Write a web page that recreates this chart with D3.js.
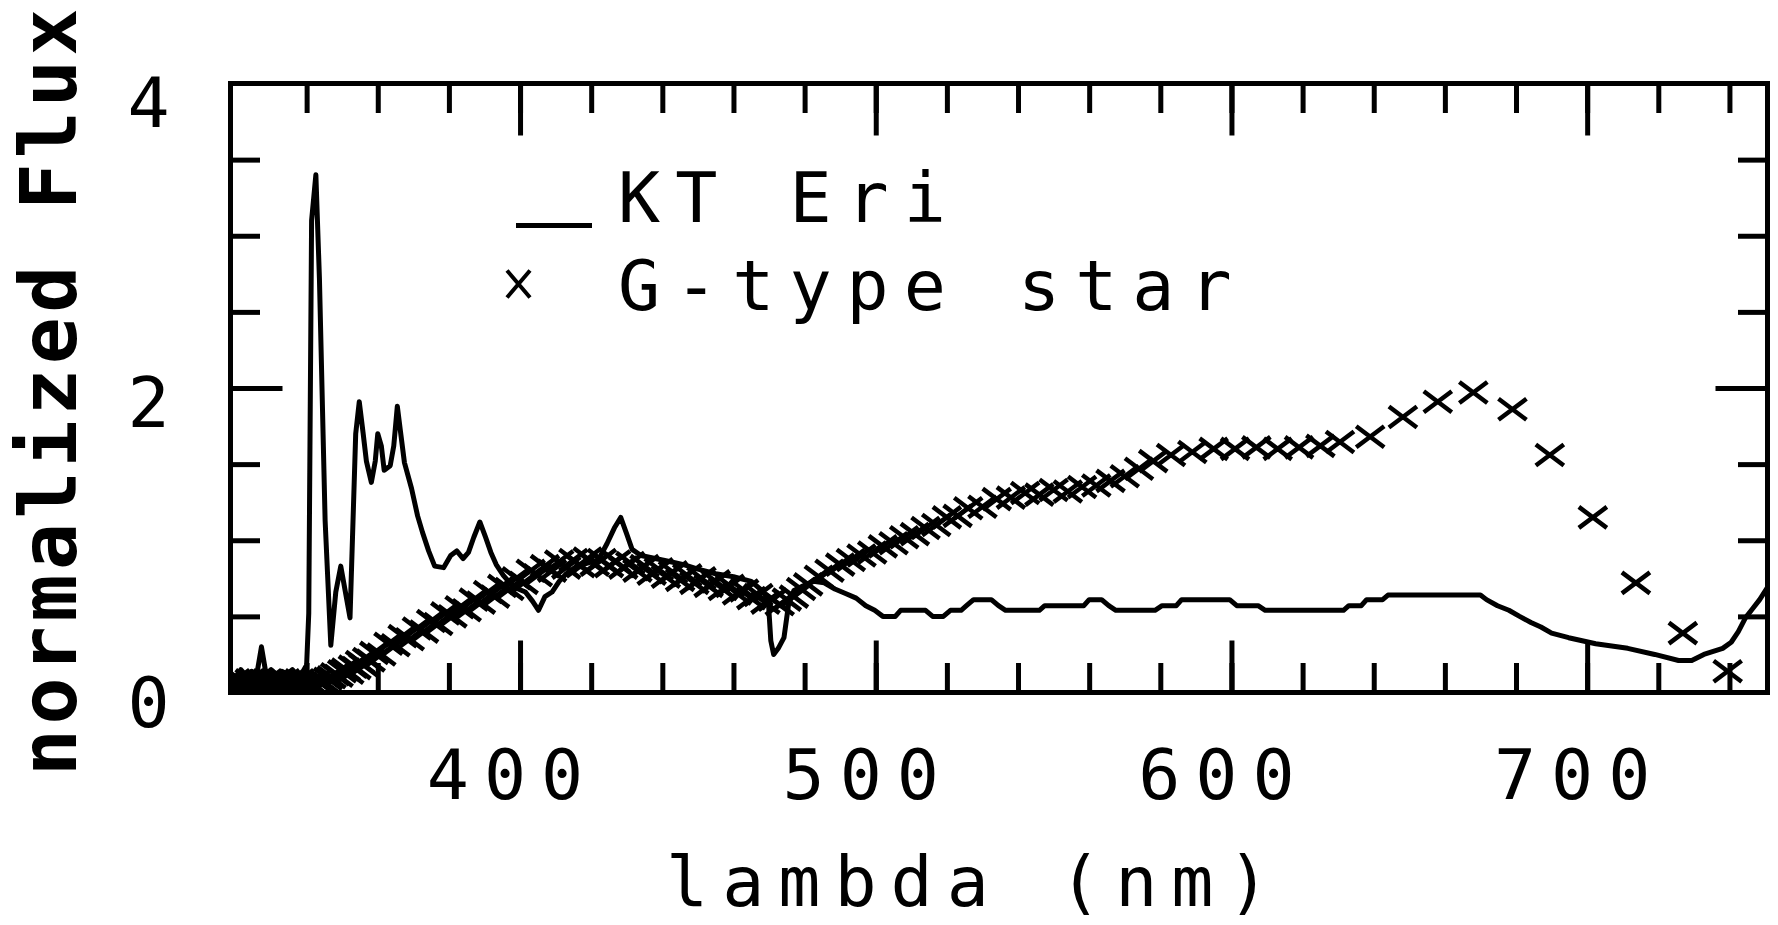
<!DOCTYPE html>
<html>
<head>
<meta charset="utf-8">
<script src="https://cdn.jsdelivr.net/npm/d3@7"></script>
<style>
  html, body { margin: 0; padding: 0; background: #fff; }
  svg { display: block; }
  .lbl { font-family: "DejaVu Sans Mono", monospace; font-size: 70px; letter-spacing: 15px; fill: #000; }
  .ytitle { font-family: "DejaVu Sans Mono", monospace; font-size: 78px; font-weight: bold; letter-spacing: 4.5px; fill: #000; }
</style>
</head>
<body>
<div id="chart"></div>
<script>
// KT Eri spectrum (solid line)
const ktWave = [318.6, 320.0, 321.5, 323.0, 324.5, 326.0, 327.3, 328.6, 330.0, 331.5, 333.0, 334.5, 336.0, 337.5, 339.0,
    340.0, 340.6, 341.4, 342.6, 343.6, 345.2, 346.8, 348.2, 349.6, 350.9, 352.2, 353.8, 354.8, 355.9, 356.8,
    358.2, 359.3, 360.0, 361.0, 361.8, 363.5, 364.5, 365.5, 366.3, 367.5, 369.5, 371.2, 372.6, 374.3, 376.0,
    378.5, 380.5, 382.2, 384.0, 385.5, 387.0, 388.7, 390.3, 391.8, 393.3, 395.3, 397.5, 399.5, 401.5, 403.5,
    405.2, 407.0, 409.0, 411.0, 413.0, 416.0, 419.0, 422.0, 424.5, 426.5, 428.3, 430.0, 431.5, 434.0, 438.0,
    442.0, 446.0, 450.0, 455.0, 460.0, 465.0, 468.5, 469.8, 470.5, 471.3, 472.6, 474.2, 475.5, 477.0, 479.5,
    482.5, 485.5, 488.5, 491.5, 494.5, 497.2, 499.7, 502.0, 505.5, 507.0, 514.0, 516.0, 519.0, 521.0, 524.0,
    525.5, 527.5, 532.5, 534.5, 536.5, 546.0, 547.5, 558.5, 560.0, 563.5, 565.5, 567.5, 578.5, 580.5, 584.5,
    586.0, 599.5, 601.5, 607.5, 609.5, 631.5, 633.0, 636.5, 638.0, 642.5, 644.0, 670.0, 671.7, 674.8, 678.0,
    681.0, 684.2, 687.0, 690.0, 694.8, 702.4, 711.4, 719.0, 725.7, 729.4, 732.8, 738.1, 740.5, 742.5, 744.5,
    746.5, 748.5, 750.7];
const ktFlux = [0.12, 0.10, 0.15, 0.11, 0.14, 0.12, 0.30, 0.12, 0.15, 0.11, 0.14, 0.12, 0.15, 0.11, 0.14,
    0.18, 0.52, 3.10, 3.40, 2.72, 1.13, 0.31, 0.66, 0.83, 0.66, 0.49, 1.70, 1.91, 1.70, 1.52,
    1.38, 1.52, 1.70, 1.62, 1.46, 1.49, 1.62, 1.88, 1.73, 1.51, 1.34, 1.16, 1.05, 0.93, 0.83,
    0.82, 0.90, 0.93, 0.88, 0.92, 1.02, 1.12, 1.02, 0.92, 0.84, 0.77, 0.71, 0.68, 0.66, 0.60,
    0.54, 0.63, 0.66, 0.73, 0.78, 0.83, 0.85, 0.87, 0.98, 1.08, 1.15, 1.04, 0.94, 0.90, 0.88,
    0.86, 0.84, 0.81, 0.78, 0.76, 0.73, 0.66, 0.60, 0.34, 0.25, 0.29, 0.36, 0.58, 0.67, 0.70,
    0.73, 0.72, 0.68, 0.65, 0.62, 0.57, 0.54, 0.50, 0.50, 0.54, 0.54, 0.50, 0.50, 0.54, 0.54,
    0.57, 0.61, 0.61, 0.57, 0.54, 0.54, 0.57, 0.57, 0.61, 0.61, 0.57, 0.54, 0.54, 0.57, 0.57,
    0.61, 0.61, 0.57, 0.57, 0.54, 0.54, 0.57, 0.57, 0.61, 0.61, 0.64, 0.64, 0.61, 0.57, 0.54,
    0.50, 0.46, 0.43, 0.39, 0.36, 0.32, 0.29, 0.25, 0.21, 0.21, 0.25, 0.29, 0.33, 0.40, 0.49,
    0.55, 0.61, 0.69];

// G-type star template (x symbols)
const gWave = [319, 320, 321, 322, 323, 324, 325, 326, 327, 328, 329, 330, 331, 332, 333, 334, 335, 336, 337, 338,
    339, 340, 341, 342, 343, 344, 345, 346, 347, 348, 349, 350, 351, 352, 353, 354, 355, 356, 357, 358,
    359, 361, 363, 365, 367, 369, 371, 373, 375, 377, 379, 381, 383, 385, 387, 389, 391, 393, 395, 397,
    399, 401, 403, 405, 407, 409, 411, 413, 415, 417, 419, 421, 423, 425, 427, 429, 431, 433, 435, 437,
    439, 441, 443, 445, 447, 449, 451, 453, 455, 457, 459, 461, 463, 465, 467, 469, 471, 473, 475, 477,
    479, 481, 484, 487, 490, 493, 496, 499, 502, 505, 508, 511, 514, 517, 520, 523, 526, 530, 534, 538,
    542, 546, 550, 554, 558, 562, 566, 570, 574, 578, 583, 589, 595, 601, 607, 613, 619, 625, 630.5, 639,
    648.2, 658, 668, 679, 689.5, 701.6, 713.7, 726.9, 739.5];
const gFlux = [0.06, 0.08, 0.04, 0.07, 0.05, 0.08, 0.04, 0.06, 0.07, 0.05, 0.08, 0.04, 0.06, 0.07, 0.05, 0.08, 0.04, 0.07, 0.05, 0.08,
    0.06, 0.04, 0.07, 0.05, 0.08, 0.06, 0.07, 0.09, 0.10, 0.12, 0.11, 0.14, 0.15, 0.13, 0.17, 0.16, 0.20, 0.18, 0.22, 0.21,
    0.26, 0.25, 0.32, 0.31, 0.37, 0.35, 0.42, 0.40, 0.47, 0.45, 0.52, 0.50, 0.56, 0.54, 0.61, 0.59, 0.66, 0.63, 0.70, 0.68,
    0.75, 0.72, 0.80, 0.77, 0.83, 0.80, 0.86, 0.82, 0.87, 0.83, 0.88, 0.84, 0.87, 0.83, 0.86, 0.82, 0.85, 0.80, 0.83, 0.78,
    0.81, 0.76, 0.79, 0.74, 0.77, 0.72, 0.75, 0.70, 0.73, 0.68, 0.70, 0.65, 0.67, 0.62, 0.64, 0.59, 0.61, 0.58, 0.61, 0.63,
    0.68, 0.71, 0.76, 0.80, 0.84, 0.87, 0.90, 0.92, 0.96, 0.98, 1.02, 1.04, 1.08, 1.10, 1.15, 1.16, 1.21, 1.22, 1.27, 1.28,
    1.31, 1.30, 1.33, 1.32, 1.35, 1.36, 1.39, 1.42, 1.47, 1.52, 1.56, 1.58, 1.60, 1.60, 1.61, 1.60, 1.61, 1.62, 1.645, 1.68,
    1.81, 1.91, 1.97, 1.86, 1.56, 1.15, 0.72, 0.39, 0.14];

const xTickLabels = [400, 500, 600, 700];
const yTickLabels = [0, 2, 4];
const legendNames = ["KT Eri", "G-type star"];

const width = 1778, height = 925;
const plot = { left: 230.5, right: 1767.5, top: 83.5, bottom: 692.5 };

const svg = d3.select("#chart").append("svg")
    .attr("width", width)
    .attr("height", height);

const x = d3.scaleLinear().domain([318.6, 750.7]).range([plot.left, plot.right]);
const y = d3.scaleLinear().domain([0, 4]).range([plot.bottom, plot.top]);

svg.append("clipPath").attr("id", "plotclip")
    .append("rect")
    .attr("x", plot.left).attr("y", plot.top)
    .attr("width", plot.right - plot.left).attr("height", plot.bottom - plot.top);

// data
const plotArea = svg.append("g").attr("clip-path", "url(#plotclip)");

const ktLine = d3.line()
    .x(i => x(ktWave[i]))
    .y(i => y(ktFlux[i]));

plotArea.append("path")
    .datum(d3.range(ktWave.length))
    .attr("d", ktLine)
    .attr("fill", "none")
    .attr("stroke", "#000")
    .attr("stroke-width", 5)
    .attr("stroke-linejoin", "round");

const cross = (hw, hh) => `M${-hw},${-hh}L${hw},${hh}M${-hw},${hh}L${hw},${-hh}`;

plotArea.selectAll(".gmark")
    .data(d3.range(gWave.length))
    .enter()
    .append("path")
    .attr("class", "gmark")
    .attr("transform", i => `translate(${x(gWave[i])},${y(gFlux[i])})`)
    .attr("d", cross(14, 10.5))
    .attr("fill", "none")
    .attr("stroke", "#000")
    .attr("stroke-width", 4.5);

// frame ticks (inside, on all four sides)
const minorX = d3.range(340, 741, 20);
const minorY = d3.range(0.5, 4, 0.5);
const minorLen = 29.5, majorLen = 52;

function styleTicks(g) {
    g.select(".domain").remove();
    g.selectAll(".tick line").attr("stroke", "#000").attr("stroke-width", 5);
}

svg.append("g").attr("transform", `translate(0,${plot.top})`)
    .call(d3.axisTop(x).tickValues(minorX).tickSize(-minorLen).tickFormat(""))
    .call(styleTicks);
svg.append("g").attr("transform", `translate(0,${plot.top})`)
    .call(d3.axisTop(x).tickValues(xTickLabels).tickSize(-majorLen).tickFormat(""))
    .call(styleTicks);
svg.append("g").attr("transform", `translate(0,${plot.bottom})`)
    .call(d3.axisBottom(x).tickValues(minorX).tickSize(-minorLen).tickFormat(""))
    .call(styleTicks);
svg.append("g").attr("transform", `translate(0,${plot.bottom})`)
    .call(d3.axisBottom(x).tickValues(xTickLabels).tickSize(-majorLen).tickFormat(""))
    .call(styleTicks);
svg.append("g").attr("transform", `translate(${plot.left},0)`)
    .call(d3.axisLeft(y).tickValues(minorY).tickSize(-minorLen).tickFormat(""))
    .call(styleTicks);
svg.append("g").attr("transform", `translate(${plot.left},0)`)
    .call(d3.axisLeft(y).tickValues([2]).tickSize(-majorLen).tickFormat(""))
    .call(styleTicks);
svg.append("g").attr("transform", `translate(${plot.right},0)`)
    .call(d3.axisRight(y).tickValues(minorY).tickSize(-minorLen).tickFormat(""))
    .call(styleTicks);
svg.append("g").attr("transform", `translate(${plot.right},0)`)
    .call(d3.axisRight(y).tickValues([2]).tickSize(-majorLen).tickFormat(""))
    .call(styleTicks);

svg.append("rect")
    .attr("x", plot.left).attr("y", plot.top)
    .attr("width", plot.right - plot.left).attr("height", plot.bottom - plot.top)
    .attr("fill", "none")
    .attr("stroke", "#000")
    .attr("stroke-width", 5);

// tick labels
svg.selectAll(".xlab")
    .data(xTickLabels)
    .enter()
    .append("text")
    .attr("class", "lbl")
    .attr("x", d => x(d) - 7.5)
    .attr("y", 799)
    .attr("text-anchor", "middle")
    .text(d => d);

const yLab = d3.scaleLinear().domain([0, 4]).range([727, 127]);
svg.selectAll(".ylab")
    .data(yTickLabels)
    .enter()
    .append("text")
    .attr("class", "lbl")
    .style("letter-spacing", "0px")
    .attr("x", 148.5)
    .attr("y", d => yLab(d))
    .attr("text-anchor", "middle")
    .text(d => d);

// axis titles
svg.append("text")
    .attr("class", "lbl")
    .style("letter-spacing", "14px")
    .attr("x", 666)
    .attr("y", 906)
    .text("lambda (nm)");

svg.append("text")
    .attr("class", "ytitle")
    .attr("transform", "translate(76,390) rotate(-90)")
    .attr("text-anchor", "middle")
    .text("normalized Flux");

// legend
const legend = svg.append("g");
legend.append("line")
    .attr("x1", 516).attr("x2", 592)
    .attr("y1", 225.5).attr("y2", 225.5)
    .attr("stroke", "#000")
    .attr("stroke-width", 5);
legend.append("path")
    .attr("transform", "translate(518.5,284)")
    .attr("d", cross(11.5, 13.5))
    .attr("fill", "none")
    .attr("stroke", "#000")
    .attr("stroke-width", 4);
legend.selectAll(".legtext")
    .data(legendNames)
    .enter()
    .append("text")
    .attr("class", "lbl")
    .attr("x", 618)
    .attr("y", (d, i) => 222 + i * 88)
    .text(d => d);
</script>
</body>
</html>
